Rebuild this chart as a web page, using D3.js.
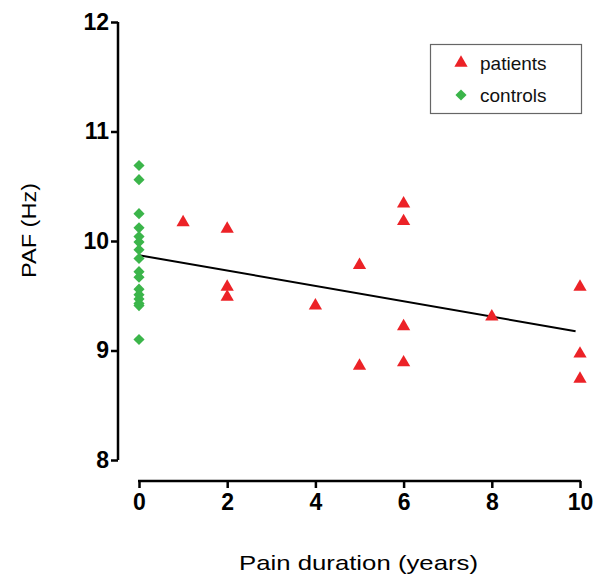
<!DOCTYPE html>
<html>
<head>
<meta charset="utf-8">
<script src="https://cdn.jsdelivr.net/npm/d3@7"></script>
<style>
  body { margin: 0; background: #fff; }
  text { font-family: Arial, "Liberation Sans", sans-serif; }
</style>
</head>
<body>
<div id="chart"></div>
<script>
// Data
var patientYears = [1, 2, 2, 2, 4, 5, 5, 6, 6, 6, 6, 8, 10, 10, 10];
var patientPAF = [10.17, 10.11, 9.58, 9.49, 9.41, 9.78, 8.86, 10.34, 10.18, 9.22, 8.89, 9.31, 9.58, 8.97, 8.74];
var controlYears = [0, 0, 0, 0, 0, 0, 0, 0, 0, 0, 0, 0, 0, 0, 0, 0];
var controlPAF = [10.69, 10.56, 10.25, 10.12, 10.04, 9.99, 9.92, 9.84, 9.72, 9.67, 9.56, 9.51, 9.47, 9.43, 9.41, 9.10];
var fitRange = [0, 9.9];
var fitIntercept = 9.87;
var fitSlope = -0.0701;
var xTicks = [0, 2, 4, 6, 8, 10];
var yTicks = [8, 9, 10, 11, 12];
var legendLabels = ['patients', 'controls'];

var width = 595;
var height = 580;
var red = '#ec2227';
var green = '#3bb54a';

var svg = d3.select('#chart')
  .append('svg')
  .attr('width', width)
  .attr('height', height);

var x = d3.scaleLinear().domain([0, 10]).range([139, 580]);
var y = d3.scaleLinear().domain([8, 12]).range([460, 22]);

// y axis (offset, Prism style)
var yAxis = svg.append('g')
  .attr('transform', 'translate(118,0)')
  .call(d3.axisLeft(y).tickValues(yTicks).tickFormat(d3.format('d')).tickSize(7).tickPadding(2));
yAxis.select('.domain').attr('d', 'M0,' + y(12) + 'V' + y(8)).attr('stroke-width', 2.5);
yAxis.selectAll('.tick line').attr('stroke-width', 2.5);
yAxis.selectAll('.tick text')
  .style('font-size', '23px')
  .style('font-weight', 'bold')
  .attr('fill', '#000');

// x axis
var xAxis = svg.append('g')
  .attr('transform', 'translate(0,481)')
  .call(d3.axisBottom(x).tickValues(xTicks).tickFormat(d3.format('d')).tickSize(7).tickPadding(6));
xAxis.select('.domain').attr('d', 'M' + (x(0) - 1) + ',0H' + (x(10) + 1)).attr('stroke-width', 2.5);
xAxis.selectAll('.tick line').attr('stroke-width', 2.5);
xAxis.selectAll('.tick text')
  .style('font-size', '23px')
  .style('font-weight', 'bold')
  .attr('fill', '#000');

// axis titles
svg.append('text')
  .attr('x', 358.5)
  .attr('y', 570)
  .attr('text-anchor', 'middle')
  .attr('textLength', 239)
  .attr('lengthAdjust', 'spacingAndGlyphs')
  .style('font-size', '21px')
  .text('Pain duration (years)');

svg.append('text')
  .attr('transform', 'translate(36,230.5) rotate(-90)')
  .attr('text-anchor', 'middle')
  .attr('textLength', 95)
  .attr('lengthAdjust', 'spacingAndGlyphs')
  .style('font-size', '21px')
  .text('PAF (Hz)');

// regression line
svg.append('line')
  .attr('x1', x(fitRange[0]))
  .attr('y1', y(fitIntercept + fitSlope * fitRange[0]))
  .attr('x2', x(fitRange[1]))
  .attr('y2', y(fitIntercept + fitSlope * fitRange[1]))
  .attr('stroke', '#000')
  .attr('stroke-width', 2);

var triangle = d3.symbol().type(d3.symbolTriangle).size(76);
var diamond = d3.symbol().type(d3.symbolSquare).size(62);

// controls
svg.selectAll('.control')
  .data(controlPAF)
  .enter().append('path')
  .attr('class', 'control')
  .attr('d', diamond)
  .attr('transform', function(d, i) {
    return 'translate(' + x(controlYears[i]) + ',' + y(d) + ') rotate(45)';
  })
  .attr('fill', green);

// patients
svg.selectAll('.patient')
  .data(patientPAF)
  .enter().append('path')
  .attr('class', 'patient')
  .attr('d', triangle)
  .attr('transform', function(d, i) {
    return 'translate(' + x(patientYears[i]) + ',' + y(d) + ')';
  })
  .attr('fill', red);

// legend
var legend = svg.append('g');
legend.append('rect')
  .attr('x', 430.5)
  .attr('y', 44.5)
  .attr('width', 151)
  .attr('height', 69)
  .attr('fill', '#fff')
  .attr('stroke', '#666')
  .attr('stroke-width', 1.2);

var items = legend.selectAll('.legend')
  .data(legendLabels)
  .enter().append('g')
  .attr('class', 'legend')
  .attr('transform', function(d, i) {
    return 'translate(461,' + (63 + i * 32) + ')';
  });

items.append('path')
  .attr('d', function(d, i) { return i === 0 ? triangle() : diamond(); })
  .attr('transform', function(d, i) { return i === 0 ? '' : 'rotate(45)'; })
  .attr('fill', function(d, i) { return i === 0 ? red : green; });

items.append('text')
  .attr('x', 19)
  .attr('dy', '0.35em')
  .style('font-size', '19px')
  .attr('fill', '#111')
  .text(function(d) { return d; });
</script>
</body>
</html>
